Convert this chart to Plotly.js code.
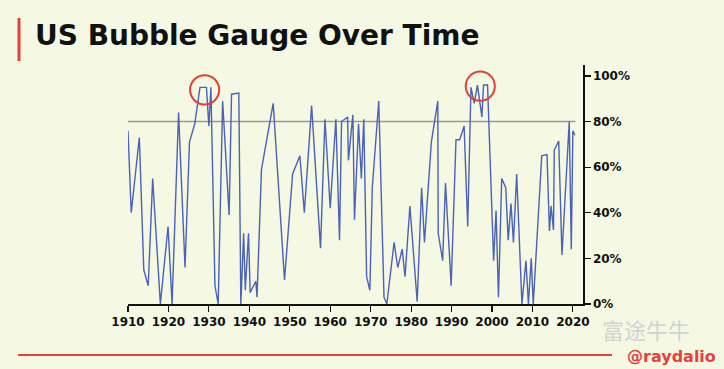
<!DOCTYPE html>
<html>
<head>
<meta charset="utf-8">
<script src="https://cdn.plot.ly/plotly-3.0.1.min.js"></script>
<style>
html,body{margin:0;padding:0;background:#f5f8e3;}
#chart{width:724px;height:369px;}
</style>
</head>
<body>
<div id="chart"></div>
<script>
// Bubble gauge readings (year, % of max)
const years = [1910.0,1910.8,1912.8,1913.9,1915.0,1916.1,1918.0,1919.9,1920.9,1922.5,1924.1,1925.2,1926.5,1927.8,1929.4,1930.0,1930.5,1931.5,1932.3,1933.4,1935.0,1935.6,1937.4,1937.9,1938.6,1939.0,1939.8,1940.2,1941.6,1941.9,1943.0,1945.9,1948.7,1950.7,1952.5,1953.6,1955.4,1957.6,1958.7,1960.0,1961.4,1962.3,1962.8,1964.3,1964.5,1965.6,1966.0,1967.0,1967.7,1968.3,1969.0,1969.8,1970.4,1972.0,1973.3,1974.0,1975.8,1976.7,1977.8,1978.5,1979.7,1981.5,1982.6,1983.3,1985.0,1986.6,1986.7,1987.8,1988.5,1989.9,1991.1,1992.0,1993.1,1994.0,1994.8,1995.6,1996.4,1997.5,1997.9,1998.9,2000.4,2001.0,2001.6,2002.4,2003.4,2004.0,2004.7,2005.3,2006.1,2007.4,2008.4,2009.0,2009.7,2010.2,2012.3,2013.6,2014.2,2014.6,2015.2,2015.4,2016.5,2017.3,2019.1,2019.6,2020.0,2020.5];
const gauge = [76,40,73,15,8,55,0,34,0,84,16,71,79,95,95,78,95,8,0,89,39,92,92.5,0,31,6,31,5,10,3,59,88,10.5,57,65,40,87,24.5,81,42,81,28,80,82,63,83,37,79,55,81,12,6,51,89,3,0,27,16,24,12,43,1,51,27,71,89,31,19,53,8,72,72,78,34,95,88,96,82,96,96,19,41,3,55,51,28,44,27,57,0,19,0,20,0,65,65.5,32,43,32.5,67.5,71.5,21.5,80,24,76,74];
const xTicks = [1910,1920,1930,1940,1950,1960,1970,1980,1990,2000,2010,2020];
const yTicks = [0,20,40,60,80,100];
const yTickText = ['0%','20%','40%','60%','80%','100%'];
const threshold = 80;
const bubblePeaks = [{x:1928.95, y:93.9}, {x:1997.1, y:95.5}];

const L = 128, R = 583, T = 65, B = 304;
const px = v => (v - L) / (R - L);
const py = v => (B - v) / (B - T);

const shapes = [
  {type:'line', xref:'x', yref:'y', x0:1910, x1:2020.6, y0:threshold, y1:threshold,
   line:{color:'#9a9a92', width:1.6}, layer:'below'},
  ...bubblePeaks.map(p => ({type:'circle', xref:'x', yref:'y',
    x0:p.x-3.6, x1:p.x+3.6, y0:p.y-6.4, y1:p.y+6.4,
    line:{color:'#e0403a', width:2}})),
  {type:'line', xref:'paper', yref:'paper', x0:px(19), x1:px(19), y0:py(18), y1:py(61),
   line:{color:'#e8413c', width:3}},
  {type:'line', xref:'paper', yref:'paper', x0:px(18), x1:px(612), y0:py(355), y1:py(355),
   line:{color:'#e8413c', width:2}}
];

const annotations = [
  {xref:'paper', yref:'paper', x:px(33), y:py(35), xanchor:'left', yanchor:'middle',
   text:'US Bubble Gauge Over Time', showarrow:false,
   font:{family:'DejaVu Sans', size:28, color:'#111', weight:'bold'}},
  {xref:'paper', yref:'paper', x:px(646), y:py(329), xanchor:'center', yanchor:'middle',
   text:'富途牛牛', showarrow:false,
   font:{family:'Noto Sans CJK SC', size:22, color:'rgba(200,206,206,0.85)'}},
  {xref:'paper', yref:'paper', x:px(671), y:py(356), xanchor:'center', yanchor:'middle',
   text:'@raydalio', showarrow:false,
   font:{family:'DejaVu Sans', size:16, color:'#e8413c', weight:'bold'}}
];

const trace = {x:years, y:gauge, type:'scatter', mode:'lines',
  line:{color:'#4a62b8', width:1.4}, hoverinfo:'skip'};

const layout = {
  width:724, height:369,
  margin:{l:L, r:724-R, t:T, b:369-B},
  paper_bgcolor:'#f5f8e3', plot_bgcolor:'#f5f8e3',
  showlegend:false,
  xaxis:{range:[1910, 2022.5], tickvals:xTicks, ticktext:xTicks.map(String),
    showgrid:false, zeroline:false, showline:true, linecolor:'#111', linewidth:1.5,
    ticks:'outside', ticklen:6, tickwidth:1.2, tickcolor:'#111',
    tickfont:{family:'DejaVu Sans', size:12, color:'#111', weight:'bold'}},
  yaxis:{range:[0, 104.8], side:'right', tickvals:yTicks, ticktext:yTickText,
    showgrid:false, zeroline:false, showline:true, linecolor:'#111', linewidth:1.5,
    ticks:'outside', ticklen:6, tickwidth:1.2, tickcolor:'#111',
    tickfont:{family:'DejaVu Sans', size:12, color:'#111', weight:'bold'}},
  shapes:shapes, annotations:annotations
};

Plotly.newPlot('chart', [trace], layout, {staticPlot:true, displayModeBar:false});
</script>
</body>
</html>
